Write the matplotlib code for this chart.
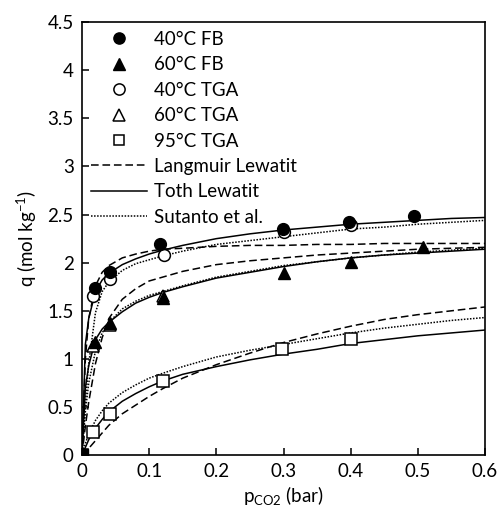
import matplotlib
matplotlib.use('Agg')
import matplotlib.pyplot as plt

plt.rcParams['font.family'] = ['Lato', 'DejaVu Sans']
plt.rcParams['mathtext.fontset'] = 'custom'
plt.rcParams['mathtext.rm'] = 'Lato'

# measured uptake, p in bar, q in mol/kg
fb40_p = [0, 0.019, 0.041, 0.116, 0.299, 0.397, 0.494]
fb40_q = [0, 1.74, 1.90, 2.19, 2.35, 2.42, 2.49]
fb60_p = [0, 0.019, 0.041, 0.120, 0.300, 0.401, 0.508]
fb60_q = [0, 1.18, 1.37, 1.63, 1.89, 2.01, 2.16]
tga40_p = [0, 0.017, 0.041, 0.122, 0.300, 0.400]
tga40_q = [0, 1.65, 1.83, 2.08, 2.32, 2.39]
tga60_p = [0, 0.017, 0.041, 0.120]
tga60_q = [0, 1.13, 1.35, 1.65]
tga95_p = [0, 0.017, 0.041, 0.121, 0.298, 0.401]
tga95_q = [0, 0.24, 0.43, 0.77, 1.10, 1.21]
origin_p = [0]
origin_q = [0]

# isotherm model curves
p_fit = [0, 0.005, 0.01, 0.02, 0.03, 0.04, 0.06, 0.08, 0.1, 0.12, 0.15,
         0.2, 0.25, 0.3, 0.35, 0.4, 0.45, 0.5, 0.55, 0.6]
toth40 = [0, 1.15, 1.42, 1.70, 1.82, 1.89, 1.98, 2.04, 2.09, 2.13, 2.18,
          2.25, 2.30, 2.34, 2.37, 2.40, 2.42, 2.44, 2.46, 2.47]
lang40 = [0, 1.00, 1.42, 1.76, 1.90, 1.97, 2.05, 2.09, 2.12, 2.14, 2.15,
          2.17, 2.18, 2.18, 2.19, 2.19, 2.20, 2.20, 2.20, 2.20]
sut40 = [0, 0.55, 0.95, 1.48, 1.70, 1.80, 1.92, 1.99, 2.03, 2.07, 2.12,
         2.19, 2.23, 2.27, 2.31, 2.35, 2.37, 2.40, 2.42, 2.44]
toth60 = [0, 0.70, 0.93, 1.20, 1.31, 1.38, 1.49, 1.58, 1.64, 1.69, 1.75,
          1.84, 1.90, 1.96, 2.01, 2.05, 2.08, 2.10, 2.12, 2.14]
lang60 = [0, 0.30, 0.55, 0.95, 1.22, 1.42, 1.62, 1.73, 1.81, 1.85, 1.91,
          1.98, 2.02, 2.05, 2.08, 2.10, 2.12, 2.14, 2.15, 2.16]
sut60 = [0, 0.45, 0.75, 1.08, 1.27, 1.38, 1.52, 1.60, 1.66, 1.70, 1.76,
         1.85, 1.91, 1.97, 2.01, 2.05, 2.08, 2.11, 2.13, 2.15]
toth95 = [0, 0.08, 0.16, 0.28, 0.37, 0.45, 0.56, 0.64, 0.71, 0.77, 0.84,
          0.92, 0.99, 1.05, 1.10, 1.16, 1.20, 1.24, 1.27, 1.30]
lang95 = [0, 0.03, 0.07, 0.15, 0.23, 0.31, 0.43, 0.52, 0.61, 0.69, 0.80,
          0.94, 1.06, 1.17, 1.26, 1.34, 1.41, 1.46, 1.50, 1.54]
sut95 = [0, 0.12, 0.22, 0.36, 0.46, 0.54, 0.65, 0.73, 0.80, 0.85, 0.92,
         1.02, 1.09, 1.15, 1.21, 1.27, 1.32, 1.36, 1.40, 1.43]

fs = 13.5

fig = plt.figure(figsize=(5.0, 5.16), dpi=100)
ax = fig.add_axes([0.164, 0.118, 0.806, 0.839])

lw = 1.1
dash = (0, (5, 2.5))
dot = (0, (1, 1))
for q in (lang40, lang60, lang95):
    ax.plot(p_fit, q, color='black', lw=lw, ls=dash)
for q in (toth40, toth60, toth95):
    ax.plot(p_fit, q, color='black', lw=lw, ls='-')
for q in (sut40, sut60, sut95):
    ax.plot(p_fit, q, color='black', lw=lw, ls=dot)

ms = 8.5
h_t40, = ax.plot(tga40_p, tga40_q, 'o', ms=ms, mfc='white', mec='black', mew=1.1)
h_t60, = ax.plot(tga60_p, tga60_q, '^', ms=ms, mfc='white', mec='black', mew=1.1)
h_t95, = ax.plot(tga95_p, tga95_q, 's', ms=ms - 0.5, mfc='white', mec='black', mew=1.1)
h_fb40, = ax.plot(fb40_p, fb40_q, 'o', ms=ms, color='black')
h_fb60, = ax.plot(fb60_p, fb60_q, '^', ms=ms, color='black')
ax.plot(origin_p, origin_q, 's', ms=ms - 0.5, color='black')

l_lang, = ax.plot([], [], color='black', lw=lw, ls=dash)
l_toth, = ax.plot([], [], color='black', lw=lw, ls='-')
l_sut, = ax.plot([], [], color='black', lw=lw, ls=dot)
ax.legend([h_fb40, h_fb60, h_t40, h_t60, h_t95, l_lang, l_toth, l_sut],
          ['40°C FB', '60°C FB', '40°C TGA', '60°C TGA', '95°C TGA',
           'Langmuir Lewatit', 'Toth Lewatit', 'Sutanto et al.'],
          loc='upper left', bbox_to_anchor=(0.022, 0.980), frameon=False,
          fontsize=fs, handlelength=3.0, handletextpad=0.37,
          labelspacing=0.45, borderpad=0, borderaxespad=0, markerscale=0.95)

ax.set_xlim(0, 0.6)
ax.set_ylim(0, 4.5)
ax.set_xticks([0, 0.1, 0.2, 0.3, 0.4, 0.5, 0.6])
ax.set_xticklabels(['0', '0.1', '0.2', '0.3', '0.4', '0.5', '0.6'])
ax.set_yticks([0, 0.5, 1, 1.5, 2, 2.5, 3, 3.5, 4, 4.5])
ax.set_yticklabels(['0', '0.5', '1', '1.5', '2', '2.5', '3', '3.5', '4', '4.5'])
ax.tick_params(direction='in', length=5, width=1.1, labelsize=fs, pad=6)
for s in ax.spines.values():
    s.set_linewidth(1.2)

ax.set_xlabel(r'p$_{\mathregular{CO2}}$ (bar)', fontsize=fs, labelpad=3)
ax.set_ylabel(r'q (mol kg$^{\mathregular{-1}}$)', fontsize=fs, labelpad=6)

fig.savefig('out.png', dpi=100)
